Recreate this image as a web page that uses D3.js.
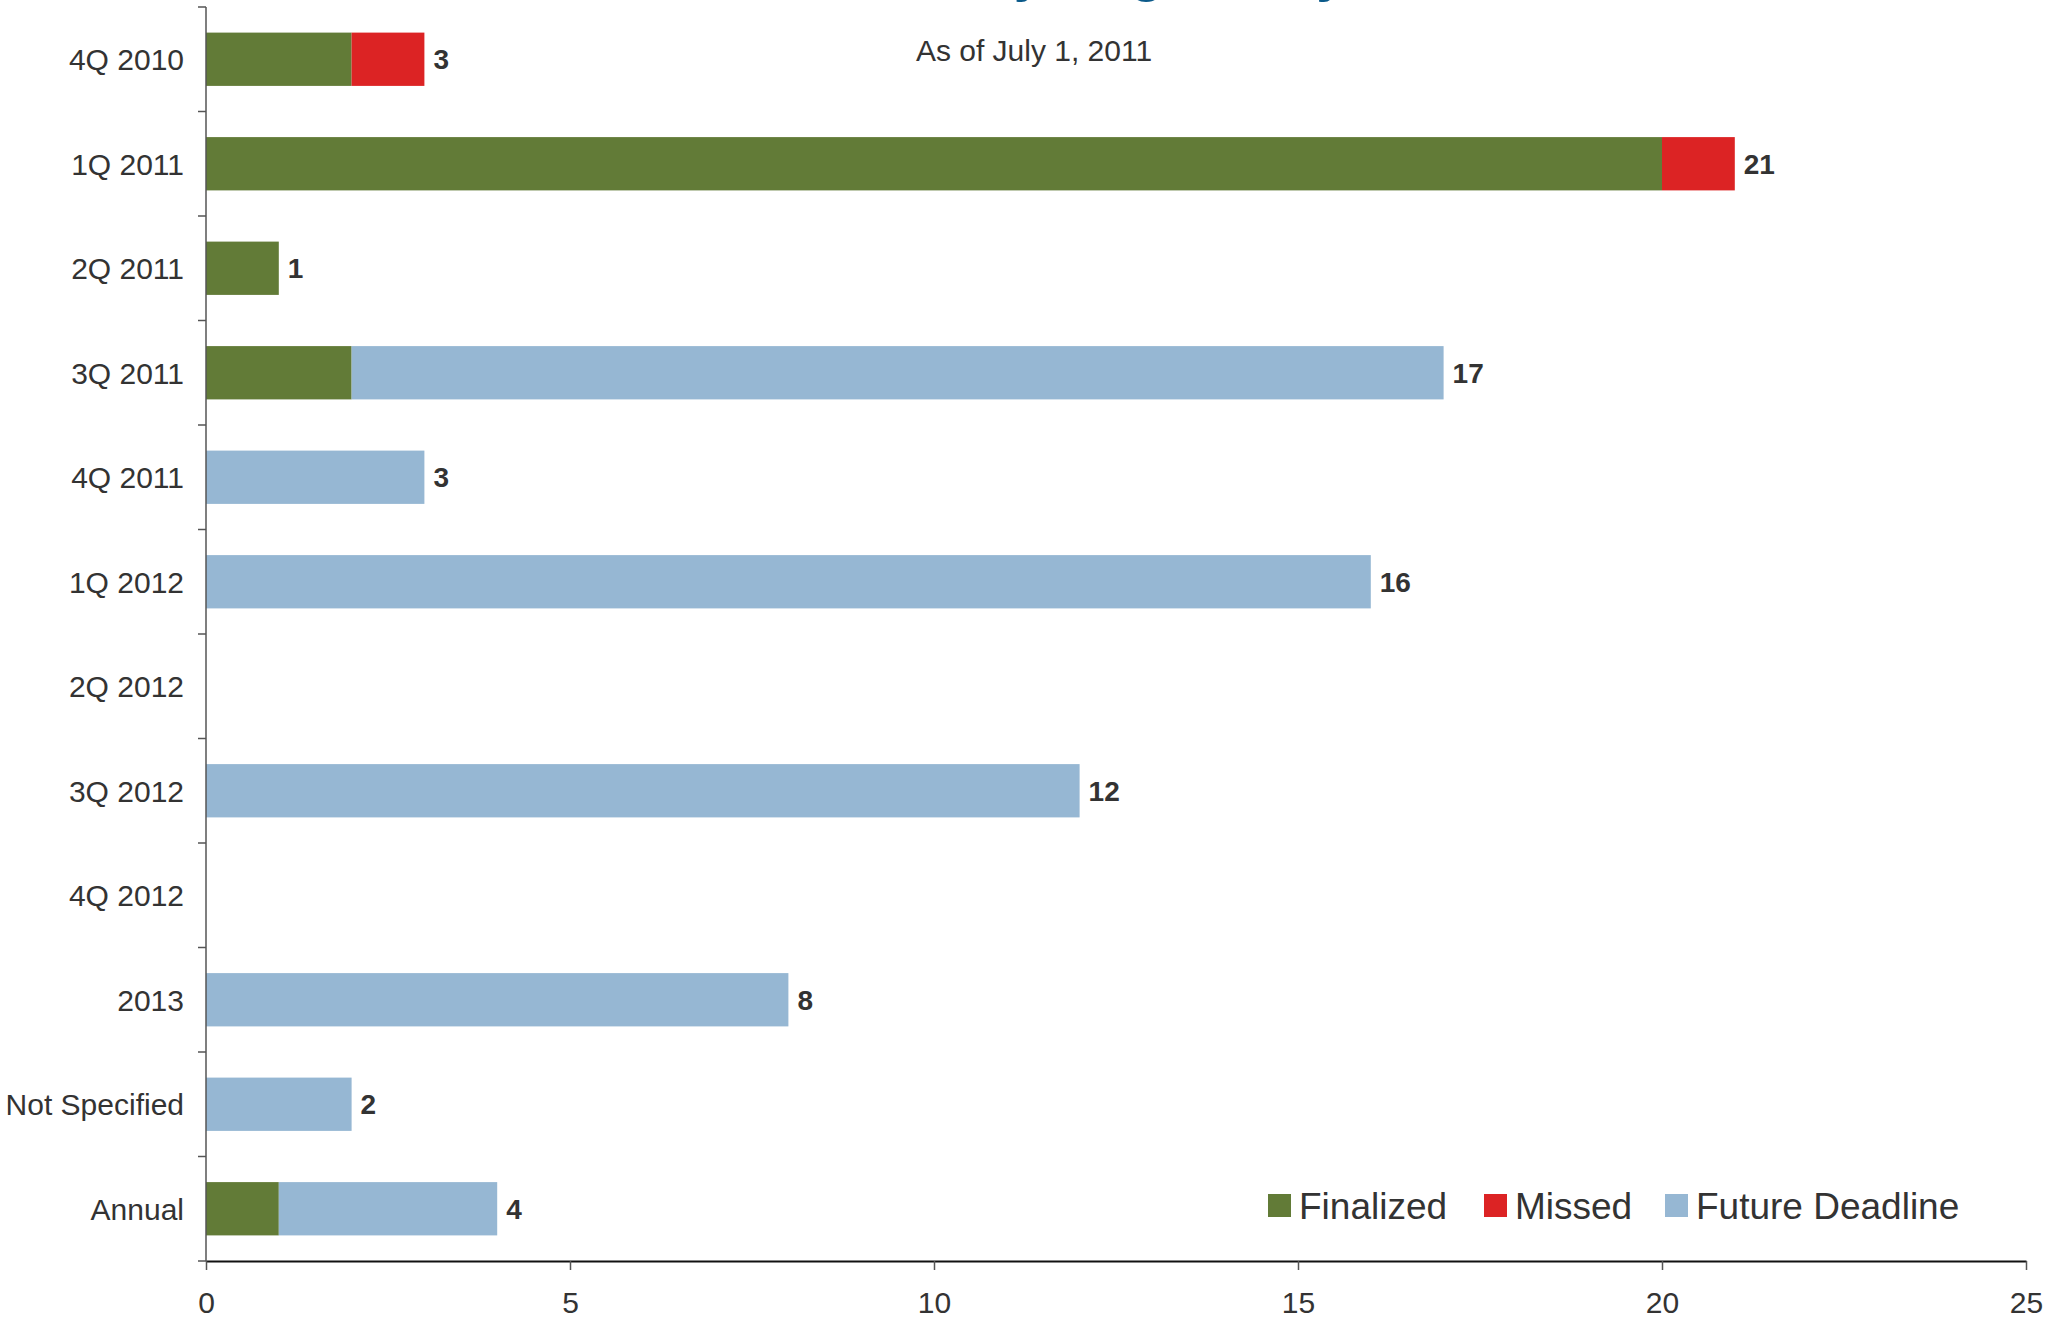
<!DOCTYPE html>
<html>
<head>
<meta charset="utf-8">
<script src="https://cdn.jsdelivr.net/npm/d3@7"></script>
<style>
  html, body { margin: 0; padding: 0; background: #fff; }
  svg { display: block; font-family: "Liberation Sans", Arial, sans-serif; }
</style>
</head>
<body>
<div id="chart"></div>
<script>
const categories = ['4Q 2010', '1Q 2011', '2Q 2011', '3Q 2011', '4Q 2011', '1Q 2012',
  '2Q 2012', '3Q 2012', '4Q 2012', '2013', 'Not Specified', 'Annual'];
const finalized = [2, 20, 1, 2, 0, 0, 0, 0, 0, 0, 0, 1];
const missed = [1, 1, 0, 0, 0, 0, 0, 0, 0, 0, 0, 0];
const futureDeadline = [0, 0, 0, 15, 3, 16, 0, 12, 0, 8, 2, 3];
const seriesNames = ['Finalized', 'Missed', 'Future Deadline'];
const seriesColors = ['#627b37', '#dc2324', '#96b7d3'];
const xTicks = [0, 5, 10, 15, 20, 25];

const width = 2059;
const height = 1324;
const margin = { top: 7, right: 33, bottom: 63, left: 206 };
const textColor = '#333';

const rows = categories.map((c, i) => ({
  category: c,
  values: [finalized[i], missed[i], futureDeadline[i]],
  total: finalized[i] + missed[i] + futureDeadline[i]
}));

const x = d3.scaleLinear()
  .domain([0, 25])
  .range([margin.left, width - margin.right]);

const y = d3.scaleBand()
  .domain(categories)
  .range([margin.top, height - margin.bottom])
  .paddingInner(0.49)
  .paddingOuter(0.245);

const svg = d3.select('#chart')
  .append('svg')
  .attr('width', width)
  .attr('height', height);

// title sits above the top edge in the original, only descenders show
svg.append('text')
  .attr('x', 705)
  .attr('y', -10)
  .attr('fill', '#0b5a8a')
  .style('font-size', '55px')
  .style('font-weight', 'bold')
  .text('Deadlines by Regulatory Status');

svg.append('text')
  .attr('x', 1034)
  .attr('y', 61)
  .attr('text-anchor', 'middle')
  .attr('fill', textColor)
  .style('font-size', '30px')
  .text('As of July 1, 2011');

// bars
const stack = svg.append('g')
  .selectAll('g')
  .data(rows)
  .join('g');

stack.selectAll('rect')
  .data(d => {
    let acc = 0;
    return d.values.map((v, k) => {
      const seg = { category: d.category, x0: acc, x1: acc + v, k };
      acc += v;
      return seg;
    }).filter(s => s.x1 > s.x0);
  })
  .join('rect')
  .attr('x', d => x(d.x0))
  .attr('width', d => x(d.x1) - x(d.x0))
  .attr('y', d => y(d.category))
  .attr('height', y.bandwidth())
  .attr('fill', d => seriesColors[d.k]);

// value labels
svg.append('g')
  .selectAll('text')
  .data(rows.filter(d => d.total > 0))
  .join('text')
  .attr('x', d => x(d.total) + 9)
  .attr('y', d => y(d.category) + y.bandwidth() / 2)
  .attr('dy', '0.36em')
  .attr('fill', textColor)
  .style('font-size', '28px')
  .style('font-weight', 'bold')
  .text(d => d.total);

// y axis
const yAxis = svg.append('g');
yAxis.append('line')
  .attr('x1', margin.left)
  .attr('x2', margin.left)
  .attr('y1', margin.top)
  .attr('y2', height - margin.bottom)
  .attr('stroke', '#555')
  .attr('stroke-width', 1.5);

yAxis.selectAll('.tick-line')
  .data(d3.range(categories.length + 1))
  .join('line')
  .attr('class', 'tick-line')
  .attr('x1', margin.left - 8)
  .attr('x2', margin.left)
  .attr('y1', i => margin.top + i * y.step())
  .attr('y2', i => margin.top + i * y.step())
  .attr('stroke', '#555')
  .attr('stroke-width', 1.5);

yAxis.selectAll('.cat')
  .data(categories)
  .join('text')
  .attr('class', 'cat')
  .attr('x', margin.left - 22)
  .attr('y', d => y(d) + y.bandwidth() / 2)
  .attr('dy', '0.36em')
  .attr('text-anchor', 'end')
  .attr('fill', textColor)
  .style('font-size', '30px')
  .text(d => d);

// x axis
svg.append('g')
  .attr('transform', `translate(0,${height - margin.bottom})`)
  .call(d3.axisBottom(x)
    .tickValues(xTicks)
    .tickSize(9)
    .tickSizeOuter(0)
    .tickPadding(22))
  .call(g => g.select('.domain')
    .attr('stroke', '#111')
    .attr('stroke-width', 2))
  .call(g => g.selectAll('.tick line')
    .attr('stroke', '#555')
    .attr('stroke-width', 1.5))
  .call(g => g.selectAll('.tick text')
    .attr('fill', textColor)
    .style('font-family', '"Liberation Sans", Arial, sans-serif')
    .style('font-size', '30px'));

// legend
const legendX = [1268, 1484, 1665];
const legend = svg.append('g')
  .selectAll('g')
  .data(seriesNames)
  .join('g')
  .attr('transform', (d, i) => `translate(${legendX[i]},1194)`);

legend.append('rect')
  .attr('width', 23)
  .attr('height', 23)
  .attr('fill', (d, i) => seriesColors[i]);

legend.append('text')
  .attr('x', 31)
  .attr('y', 11.5)
  .attr('dy', '0.36em')
  .attr('fill', textColor)
  .style('font-size', '37px')
  .text(d => d);
</script>
</body>
</html>
